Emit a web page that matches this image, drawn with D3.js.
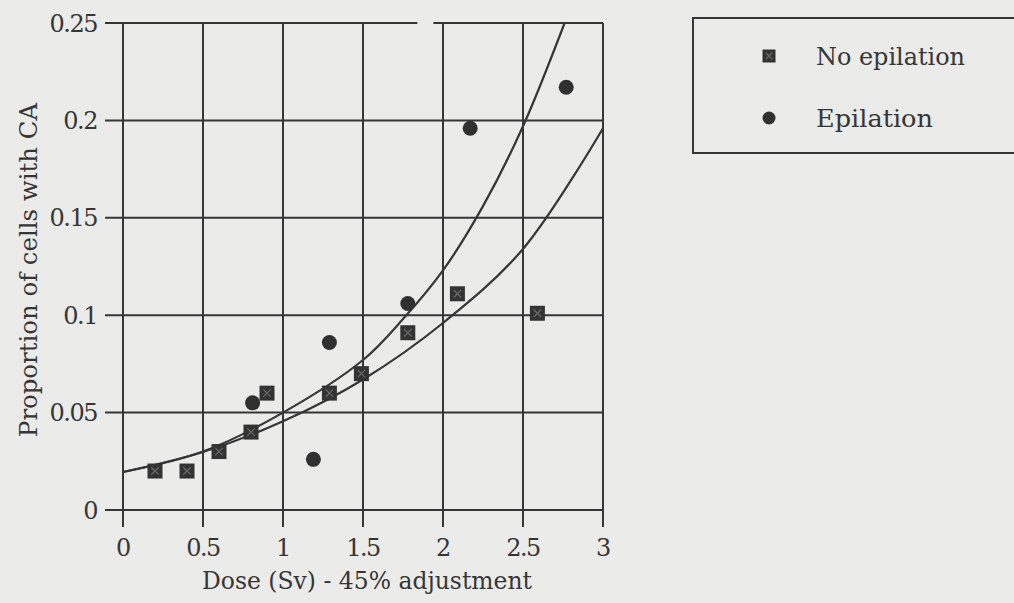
<!DOCTYPE html>
<html><head><meta charset="utf-8">
<script src="https://cdn.jsdelivr.net/npm/d3@7"></script>
<style>html,body{margin:0;padding:0;background:#ebebe9;}svg{display:block;}</style>
</head><body>
<script>
// ---- data ----
const xTicks = [0, 0.5, 1, 1.5, 2, 2.5, 3];
const yTicks = [0, 0.05, 0.1, 0.15, 0.2, 0.25];
const xTickLabels = ["0", "0.5", "1", "1.5", "2", "2.5", "3"];
const yTickLabels = ["0", "0.05", "0.1", "0.15", "0.2", "0.25"];

const noEpDose = [0.2, 0.4, 0.6, 0.8, 0.9, 1.29, 1.49, 1.78, 2.09, 2.59];
const noEpProp = [0.020, 0.020, 0.030, 0.040, 0.060, 0.060, 0.070, 0.091, 0.111, 0.101];

const epDose = [0.81, 1.19, 1.29, 1.78, 2.17, 2.77];
const epProp = [0.055, 0.026, 0.086, 0.106, 0.196, 0.217];

// fitted curves
const fitEpDose = [0, 0.5, 1.0, 1.5, 1.75, 2.0, 2.25, 2.5, 2.76];
const fitEpProp = [0.0195, 0.030, 0.050, 0.077, 0.098, 0.123, 0.156, 0.197, 0.25];
const fitNoDose = [0, 0.5, 1.0, 1.5, 2.0, 2.5, 3.0];
const fitNoProp = [0.0195, 0.0298, 0.0455, 0.067, 0.096, 0.134, 0.196];

const legendLabels = ["No epilation", "Epilation"];

// ---- drawing ----
const W = 1014, H = 603;
const ink = "#363636";
const font = "DejaVu Serif";
const svg = d3.select("body").append("svg").attr("width", W).attr("height", H);
svg.append("rect").attr("width", W).attr("height", H).attr("fill", "#ebebe9");

const x = d3.scaleLinear().domain([0, 3]).range([123, 603]);
const y = d3.scaleLinear().domain([0, 0.25]).range([510, 23]);

const g = svg.append("g");

// horizontal grid + left ticks
g.selectAll("line.h").data(yTicks).join("line")
  .attr("x1", x(0) - 18).attr("x2", x(3))
  .attr("y1", d => y(d)).attr("y2", d => y(d))
  .attr("stroke", ink).attr("stroke-width", 2);
// vertical grid + bottom ticks
g.selectAll("line.v").data(xTicks).join("line")
  .attr("x1", d => x(d)).attr("x2", d => x(d))
  .attr("y1", y(0.25)).attr("y2", y(0) + 17)
  .attr("stroke", ink).attr("stroke-width", 2);

// small scan gap in the top border
g.append("rect").attr("x", x(1.84)).attr("y", y(0.25) - 3)
  .attr("width", x(1.94) - x(1.84)).attr("height", 6).attr("fill", "#ebebe9");

// tick labels
g.selectAll("text.yt").data(yTicks).join("text")
  .attr("x", x(0) - 26).attr("y", d => y(d)).attr("dy", "0.36em")
  .attr("text-anchor", "end").attr("font-family", font).attr("font-size", 24)
  .attr("letter-spacing", -1.5)
  .attr("fill", ink).text((d, i) => yTickLabels[i]);
g.selectAll("text.xt").data(xTicks).join("text")
  .attr("x", d => x(d)).attr("y", 556)
  .attr("text-anchor", "middle").attr("font-family", font).attr("font-size", 24)
  .attr("letter-spacing", -1.5)
  .attr("fill", ink).text((d, i) => xTickLabels[i]);

// axis titles
svg.append("text").attr("x", 367).attr("y", 589).attr("text-anchor", "middle")
  .attr("font-family", font).attr("font-size", 25).attr("fill", ink)
  .attr("textLength", 330).attr("lengthAdjust", "spacingAndGlyphs")
  .text("Dose (Sv) - 45% adjustment");
svg.append("text").attr("transform", "translate(37,270) rotate(-90)")
  .attr("text-anchor", "middle").attr("font-family", font).attr("font-size", 25)
  .attr("fill", ink).attr("textLength", 334).attr("lengthAdjust", "spacingAndGlyphs")
  .text("Proportion of cells with CA");

// fitted curves
const line = d3.line().x(d => x(d[0])).y(d => y(d[1])).curve(d3.curveCatmullRom);
g.append("path").datum(d3.zip(fitEpDose, fitEpProp)).attr("d", line)
  .attr("fill", "none").attr("stroke", ink).attr("stroke-width", 2.2);
g.append("path").datum(d3.zip(fitNoDose, fitNoProp)).attr("d", line)
  .attr("fill", "none").attr("stroke", ink).attr("stroke-width", 2.2);

// markers
function square(sel, cx, cy, s) {
  sel.append("rect").attr("x", cx - s / 2).attr("y", cy - s / 2)
    .attr("width", s).attr("height", s).attr("fill", "#333");
  sel.append("path")
    .attr("d", `M${cx - s / 4},${cy - s / 4}L${cx + s / 4},${cy + s / 4}M${cx + s / 4},${cy - s / 4}L${cx - s / 4},${cy + s / 4}`)
    .attr("stroke", "#6a6a6a").attr("stroke-width", 1.2);
}
d3.zip(noEpDose, noEpProp).forEach(d => square(g, x(d[0]), y(d[1]), 15));
g.selectAll("circle.ep").data(d3.zip(epDose, epProp)).join("circle")
  .attr("cx", d => x(d[0])).attr("cy", d => y(d[1])).attr("r", 7.5)
  .attr("fill", "#303030");

// legend
const lg = svg.append("g");
lg.append("rect").attr("x", 693).attr("y", 18).attr("width", 340).attr("height", 135)
  .attr("fill", "none").attr("stroke", ink).attr("stroke-width", 2);
square(lg, 769, 56, 13);
lg.append("circle").attr("cx", 769).attr("cy", 118).attr("r", 6.5).attr("fill", "#303030");
lg.append("text").attr("x", 816).attr("y", 56).attr("dy", "0.35em")
  .attr("font-family", font).attr("font-size", 25).attr("fill", ink)
  .attr("textLength", 149).attr("lengthAdjust", "spacingAndGlyphs").text(legendLabels[0]);
lg.append("text").attr("x", 816).attr("y", 118).attr("dy", "0.35em")
  .attr("font-family", font).attr("font-size", 25).attr("fill", ink)
  .attr("textLength", 117).attr("lengthAdjust", "spacingAndGlyphs").text(legendLabels[1]);
</script>
</body></html>
